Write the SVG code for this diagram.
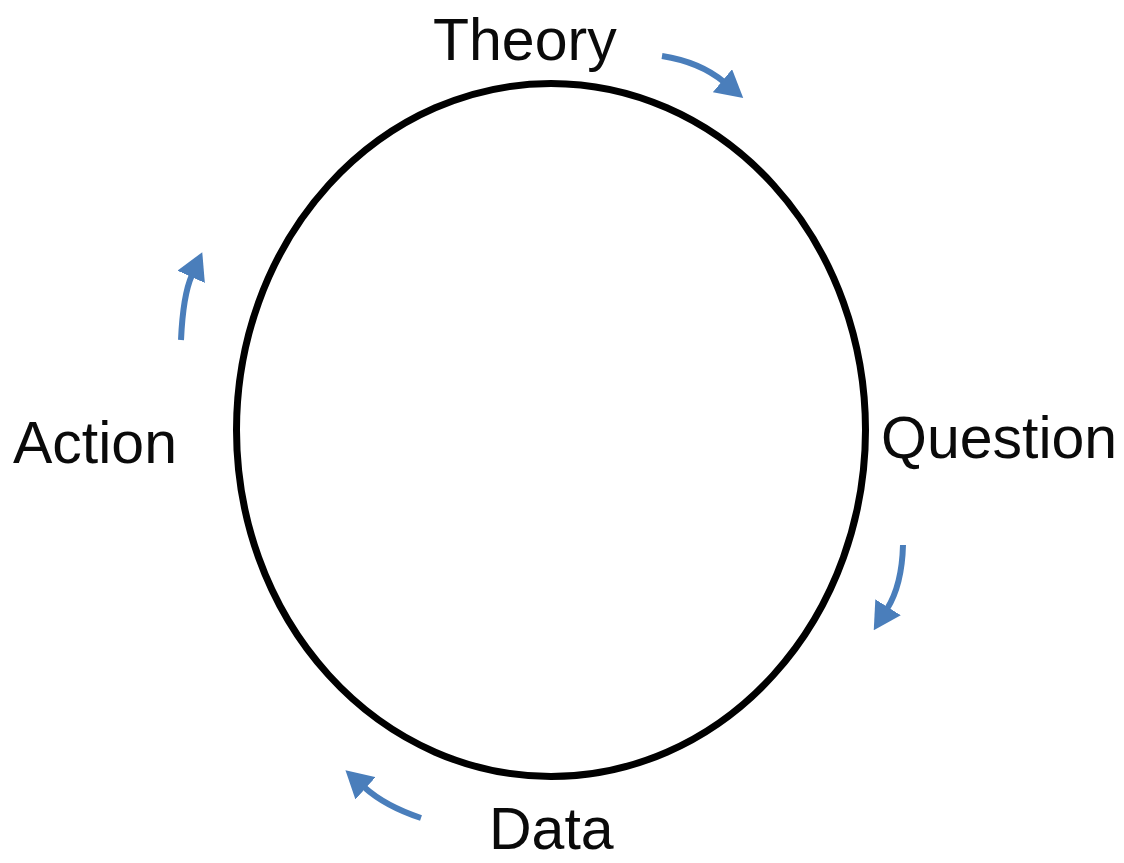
<svg xmlns="http://www.w3.org/2000/svg" width="1124" height="863" viewBox="0 0 1124 863">
<style>
.lbl{font-family:"Liberation Sans",Arial,sans-serif;font-size:59px;fill:#0a0a0a}
.arr{fill:none;stroke:#4a7ebb;stroke-width:6;marker-end:url(#head)}
</style>
<defs>
<marker id="head" markerUnits="userSpaceOnUse" viewBox="0 0 27 30" markerWidth="27" markerHeight="30" refX="2" refY="15" orient="auto">
<path d="M0,0 L27,15 L0,30 z" fill="#4a7ebb"/>
</marker>
</defs>
<rect width="1124" height="863" fill="#fff"/>
<g id="cycle">
<ellipse cx="551" cy="430" rx="314.5" ry="346.5" fill="none" stroke="#000" stroke-width="7"/>
</g>
<g id="theory"><text class="lbl" x="433" y="60">Theory</text></g>
<g id="question"><text class="lbl" x="881" y="458">Question</text></g>
<g id="data"><text class="lbl" x="489" y="849">Data</text></g>
<g id="action"><text class="lbl" x="13" y="463">Action</text></g>
<g id="connectors">
<path class="arr" d="M662,56 Q700,62 724,82"/>
<path class="arr" d="M903,545 Q902,585 887,609"/>
<path class="arr" d="M421,818 Q385,806 364,787"/>
<path class="arr" d="M181,340 Q183,295 192,275"/>
</g>
</svg>
